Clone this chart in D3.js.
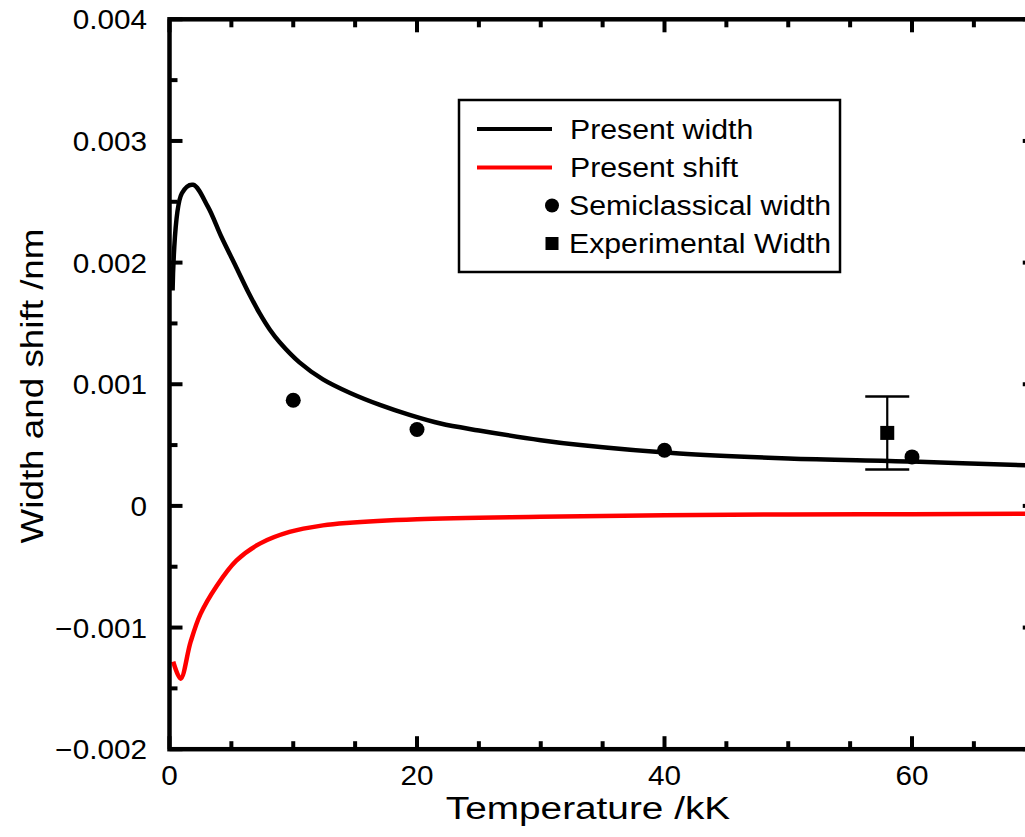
<!DOCTYPE html>
<html>
<head>
<meta charset="utf-8">
<script src="https://cdn.jsdelivr.net/npm/d3@7"></script>
<style>
  html, body { margin: 0; padding: 0; background: #fff; }
  svg { display: block; }
  text { font-family: "Liberation Sans", Arial, Helvetica, sans-serif; fill: #000; }
</style>
</head>
<body>
<svg id="chart" width="1025" height="837"></svg>
<script>
// Present calculation: line width vs temperature (kK, nm)
const widthT   = [0.25, 1.0, 1.9, 3.1, 4.2, 5.4, 6.4, 7.3, 8.1, 8.9, 10.5, 12.4, 14.6, 17.0, 19.4, 21.9, 25.0, 30.0, 33.2, 41.2, 50.0, 60.0, 70.0];
const widthV   = [0.00177, 0.00257, 0.00264, 0.00246, 0.00221, 0.00196, 0.00175, 0.00158, 0.00145, 0.001345, 0.00118, 0.00104, 0.000928, 0.00083, 0.000748, 0.000677, 0.00062, 0.00054, 0.0005, 0.00043, 0.00039, 0.000365, 0.00033];

// Present calculation: line shift vs temperature
const shiftT   = [0.3, 0.9, 1.7, 2.5, 3.8, 5.4, 7.3, 9.7, 12.4, 14.3, 20.0, 30.0, 40.0, 50.0, 60.0, 70.0];
const shiftV   = [-0.00128, -0.00142, -0.00112, -0.00089, -0.00066, -0.00045, -0.00031, -0.000214, -0.00016, -0.00014, -0.00011, -0.00009, -0.000076, -0.00007, -0.000068, -0.000065];

// Semiclassical widths
const semiT    = [10, 20, 40, 60];
const semiV    = [0.000869, 0.000628, 0.000458, 0.000403];

// Experimental width with its error range
const expT     = [58];
const expV     = [0.0006];
const expErr   = [0.0003];

// Axis ticks
const xMajor   = [0, 20, 40, 60];
const xMinor   = [5, 10, 15, 25, 30, 35, 45, 50, 55, 65];
const yMajor   = [-0.002, -0.001, 0, 0.001, 0.002, 0.003, 0.004];
const yMinor   = [-0.0015, -0.0005, 0.0005, 0.0015, 0.0025, 0.0035];
const xLabels  = ["0", "20", "40", "60"];
const yLabels  = ["\u22120.002", "\u22120.001", "0", "0.001", "0.002", "0.003", "0.004"];

const legendItems = ["Present width", "Present shift", "Semiclassical width", "Experimental Width"];

const svg = d3.select("#chart");

const plotL = 169.5, plotR = 1035.75, plotT = 19.3, plotB = 749.2;
const x = d3.scaleLinear().domain([0, 70]).range([plotL, plotR]);
const y = d3.scaleLinear().domain([-0.002, 0.004]).range([plotB, plotT]);

// widen glyphs slightly, like the original typeface
function stretch(sel, f) {
  sel.each(function () {
    const w = this.getComputedTextLength();
    d3.select(this).attr("textLength", w * f).attr("lengthAdjust", "spacingAndGlyphs");
  });
}

// ---- data curves
const widthData = widthT.map((t, i) => [t, widthV[i]]);
const shiftData = shiftT.map((t, i) => [t, shiftV[i]]);
const line = d3.line().x(d => x(d[0])).y(d => y(d[1])).curve(d3.curveCatmullRom.alpha(0.5));

const plot = svg.append("g");
plot.append("path").datum(shiftData).attr("d", line)
  .attr("fill", "none").attr("stroke", "#ff0000").attr("stroke-width", 4.5).attr("stroke-linejoin", "round");
plot.append("path").datum(widthData).attr("d", line)
  .attr("fill", "none").attr("stroke", "#000").attr("stroke-width", 4.5).attr("stroke-linejoin", "round");

// semiclassical points
plot.selectAll("circle.semi").data(semiT).join("circle")
  .attr("class", "semi")
  .attr("cx", d => x(d)).attr("cy", (d, i) => y(semiV[i])).attr("r", 7.5).attr("fill", "#000");

// experimental point with error bar
expT.forEach((t, i) => {
  const cx = x(t);
  const g = plot.append("g");
  g.append("line").attr("x1", cx).attr("x2", cx)
    .attr("y1", y(expV[i] - expErr[i])).attr("y2", y(expV[i] + expErr[i]))
    .attr("stroke", "#000").attr("stroke-width", 2.2);
  [expV[i] - expErr[i], expV[i] + expErr[i]].forEach(v => {
    g.append("line").attr("x1", cx - 22).attr("x2", cx + 22)
      .attr("y1", y(v)).attr("y2", y(v))
      .attr("stroke", "#000").attr("stroke-width", 2.5);
  });
  g.append("rect").attr("x", cx - 7).attr("y", y(expV[i]) - 7)
    .attr("width", 14).attr("height", 14).attr("fill", "#000");
});

// ---- frame and ticks
const axesG = svg.append("g");
const tickW = 4, majorLen = 13, minorLen = 8;

function xTickSet(vals, len) {
  vals.forEach(v => {
    axesG.append("line").attr("x1", x(v)).attr("x2", x(v)).attr("y1", plotB).attr("y2", plotB - len)
      .attr("stroke", "#000").attr("stroke-width", tickW);
    axesG.append("line").attr("x1", x(v)).attr("x2", x(v)).attr("y1", plotT).attr("y2", plotT + len)
      .attr("stroke", "#000").attr("stroke-width", tickW);
  });
}
xTickSet(xMajor, majorLen);
xTickSet(xMinor, minorLen);

function yTickSet(vals, len) {
  vals.forEach(v => {
    axesG.append("line").attr("x1", plotL).attr("x2", plotL + len).attr("y1", y(v)).attr("y2", y(v))
      .attr("stroke", "#000").attr("stroke-width", tickW);
    axesG.append("line").attr("x1", plotR).attr("x2", plotR - len).attr("y1", y(v)).attr("y2", y(v))
      .attr("stroke", "#000").attr("stroke-width", tickW);
  });
}
yTickSet(yMajor, majorLen);
yTickSet(yMinor, minorLen);

axesG.append("rect").attr("x", plotL).attr("y", plotT)
  .attr("width", plotR - plotL).attr("height", plotB - plotT)
  .attr("fill", "none").attr("stroke", "#000").attr("stroke-width", 4.5);

// tick labels
svg.append("g").selectAll("text").data(xMajor).join("text")
  .attr("x", d => x(d)).attr("y", 785).attr("text-anchor", "middle")
  .attr("font-size", 27).text((d, i) => xLabels[i])
  .call(stretch, 1.1);

svg.append("g").selectAll("text").data(yMajor).join("text")
  .attr("x", 147).attr("y", d => y(d) + 10).attr("text-anchor", "end")
  .attr("font-size", 27).text((d, i) => yLabels[i])
  .call(stretch, 1.1);

// axis titles
svg.append("text").attr("x", 588).attr("y", 819).attr("text-anchor", "middle")
  .attr("font-size", 31).text("Temperature /kK").call(stretch, 1.25);

svg.append("text").attr("transform", "translate(43,386) rotate(-90)").attr("text-anchor", "middle")
  .attr("font-size", 32).text("Width and shift /nm").call(stretch, 1.15);

// ---- legend
const lg = svg.append("g");
lg.append("rect").attr("x", 459).attr("y", 100).attr("width", 381).attr("height", 172)
  .attr("fill", "#fff").attr("stroke", "#000").attr("stroke-width", 2.5);
const rowY = [129, 167.5, 205.5, 243.5];
lg.append("line").attr("x1", 477).attr("x2", 552).attr("y1", rowY[0]).attr("y2", rowY[0])
  .attr("stroke", "#000").attr("stroke-width", 4);
lg.append("line").attr("x1", 477).attr("x2", 552).attr("y1", rowY[1]).attr("y2", rowY[1])
  .attr("stroke", "#ff0000").attr("stroke-width", 4);
lg.append("circle").attr("cx", 552).attr("cy", rowY[2]).attr("r", 7).attr("fill", "#000");
lg.append("rect").attr("x", 545.5).attr("y", rowY[3] - 6.5).attr("width", 13).attr("height", 13).attr("fill", "#000");
lg.selectAll("text").data(legendItems).join("text")
  .attr("x", (d, i) => i < 2 ? 570 : 569).attr("y", (d, i) => rowY[i] + 9.5)
  .attr("font-size", 27).text(d => d)
  .call(stretch, 1.12);
</script>
</body>
</html>
